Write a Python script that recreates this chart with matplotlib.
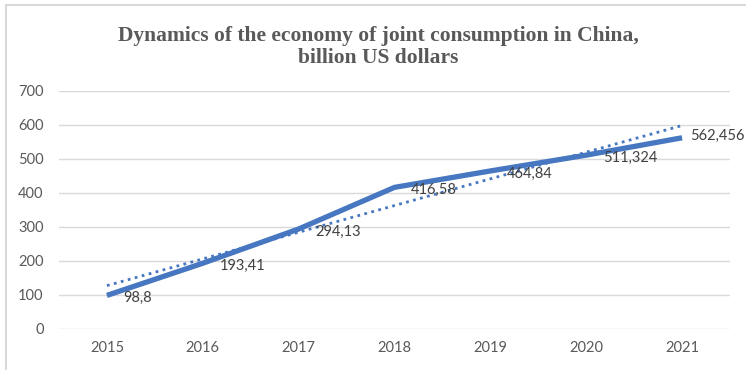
import numpy as np
import matplotlib
matplotlib.use("Agg")
import matplotlib.pyplot as plt
from matplotlib.lines import Line2D

years = ["2015", "2016", "2017", "2018", "2019", "2020", "2021"]
values = [98.8, 193.41, 294.13, 416.58, 464.84, 511.324, 562.456]
value_labels = ["98,8", "193,41", "294,13", "416,58", "464,84", "511,324", "562,456"]
y_ticks = [0, 100, 200, 300, 400, 500, 600, 700]

W, H = 746, 370
fig = plt.figure(figsize=(W / 100, H / 100), dpi=100)
fig.patch.set_facecolor("white")

ax = fig.add_axes([59 / W, 1 - 329 / H, (730 - 59) / W, (329 - 91) / H])
x = np.arange(len(years))

# linear trend line
coef = np.polyfit(x, values, 1)
trend = np.polyval(coef, x)
ax.plot(x, trend, linestyle=(0, (1, 1.6)), color="#4677C0", linewidth=2.0,
        solid_capstyle="round", zorder=2)

ax.plot(x, values, color="#4677C0", linewidth=3.8, solid_capstyle="butt",
        solid_joinstyle="round", zorder=3)

for i, (xi, v, lab) in enumerate(zip(x, values, value_labels)):
    last = i == len(values) - 1
    offset = (6, 1) if last else (12, -2)
    ax.annotate(lab, (xi, v), xytext=offset, textcoords="offset points",
                ha="left", va="center", fontsize=10.5, color="#404040",
                family=["Lato", "DejaVu Sans"], zorder=4)

ax.set_xlim(-0.5, len(years) - 0.5)
ax.set_ylim(0, 700)
ax.set_yticks(y_ticks)
ax.set_yticklabels([str(t) for t in y_ticks])
ax.set_xticks(x)
ax.set_xticklabels(years)
ax.yaxis.grid(True, color="#d9d9d9", linewidth=1.0)
ax.set_axisbelow(True)
for s in ax.spines.values():
    s.set_visible(False)
ax.tick_params(length=0, colors="#595959", labelsize=10.5, pad=9)
ax.tick_params(axis="y", pad=11)
for lab in ax.get_xticklabels() + ax.get_yticklabels():
    lab.set_family(["Lato", "DejaVu Sans"])

fig.text(0.507, 1 - 47 / H,
         "Dynamics of the economy of joint consumption in China,\nbillion US dollars",
         ha="center", va="center", fontsize=15.5, fontweight="bold",
         color="#595959", family=["Liberation Serif", "DejaVu Serif"],
         linespacing=1.1)

# outer chart frame (left and top edges)
fig.add_artist(Line2D([6 / W, 6 / W], [0, 1 - 5 / H], transform=fig.transFigure,
                      color="#d9d9d9", linewidth=1.5))
fig.add_artist(Line2D([6 / W, 1], [1 - 5 / H, 1 - 5 / H], transform=fig.transFigure,
                      color="#d9d9d9", linewidth=1.5))

fig.savefig("out.png", dpi=100, facecolor="white")
